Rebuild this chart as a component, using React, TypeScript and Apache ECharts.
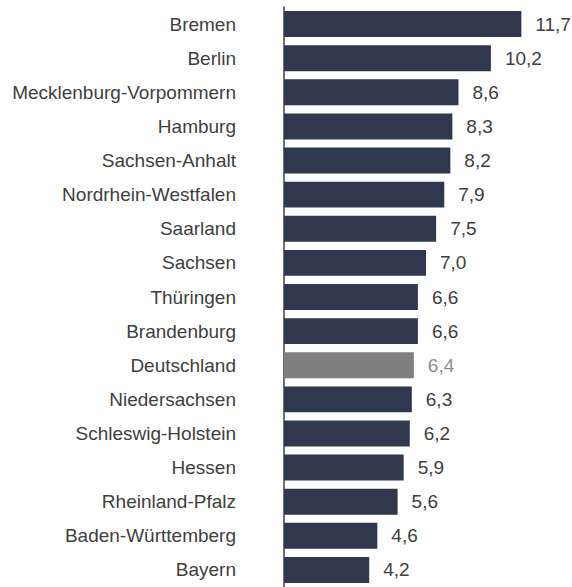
import React, { useEffect, useRef } from "react";
import * as echarts from "echarts";

const categories = [
  "Bremen",
  "Berlin",
  "Mecklenburg-Vorpommern",
  "Hamburg",
  "Sachsen-Anhalt",
  "Nordrhein-Westfalen",
  "Saarland",
  "Sachsen",
  "Thüringen",
  "Brandenburg",
  "Deutschland",
  "Niedersachsen",
  "Schleswig-Holstein",
  "Hessen",
  "Rheinland-Pfalz",
  "Baden-Württemberg",
  "Bayern",
];

const values = [11.7, 10.2, 8.6, 8.3, 8.2, 7.9, 7.5, 7.0, 6.6, 6.6, 6.4, 6.3, 6.2, 5.9, 5.6, 4.6, 4.2];

const highlight = "Deutschland";

const FONT = "'Liberation Sans', Arial, sans-serif";
const BAR_COLOR = "#303850";
const HIGHLIGHT_COLOR = "#7f7f7f";
const TEXT_COLOR = "#404040";

export default function App() {
  const ref = useRef<HTMLDivElement>(null);

  useEffect(() => {
    if (!ref.current) return;
    const chart = echarts.init(ref.current, undefined, { renderer: "svg" });
    const data = values.map((v, i) => {
      const isH = categories[i] === highlight;
      return {
        value: v,
        itemStyle: { color: isH ? HIGHLIGHT_COLOR : BAR_COLOR },
        label: { color: isH ? "#8c8c8c" : TEXT_COLOR },
      };
    });
    chart.setOption({
      animation: false,
      grid: { left: 284, top: 7, width: 284, height: 585, containLabel: false },
      xAxis: {
        type: "value",
        min: 0,
        max: 14,
        show: false,
      },
      yAxis: {
        type: "category",
        data: categories,
        inverse: true,
        axisTick: { show: false },
        axisLine: { show: true, lineStyle: { color: "#404040", width: 1.5 } },
        axisLabel: {
          margin: 48,
          color: TEXT_COLOR,
          fontSize: 19,
          fontFamily: FONT,
        },
      },
      series: [
        {
          type: "bar",
          data,
          barCategoryGap: "24%",
          label: {
            show: true,
            position: "right",
            distance: 14,
            fontSize: 19,
            fontFamily: FONT,
            formatter: (p: any) => Number(p.value).toFixed(1).replace(".", ","),
          },
        },
      ],
    });
    return () => chart.dispose();
  }, []);

  return (
    <div
      ref={ref}
      style={{ position: "fixed", left: 0, top: 0, width: 572, height: 587, background: "#fff" }}
    />
  );
}
